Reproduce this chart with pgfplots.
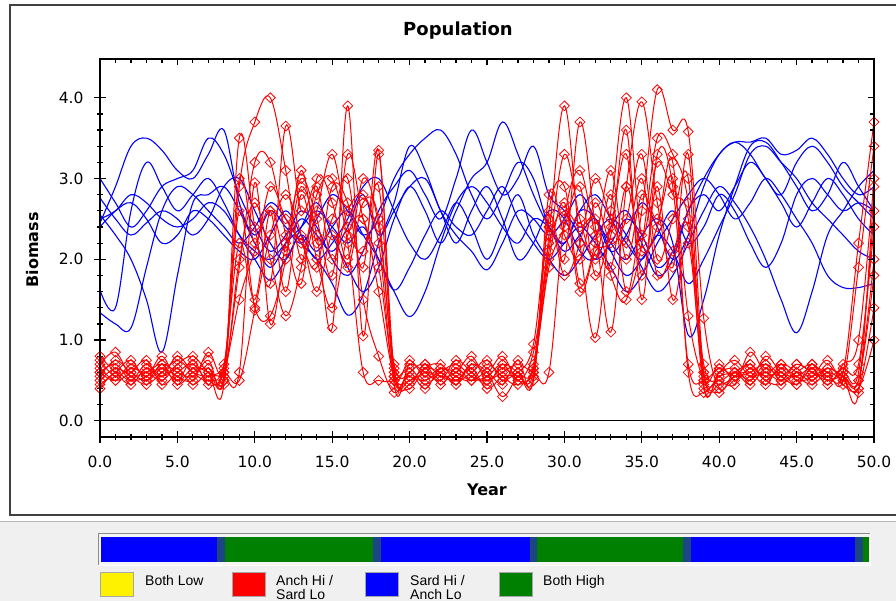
\documentclass[border=0pt]{standalone}
\usepackage{fontspec}
\setmainfont{DejaVu Sans}
\newfontfamily\legfont{Liberation Sans}
\usepackage{pgfplots}
\pgfplotsset{compat=1.18}
\definecolor{sepc}{HTML}{1C4584}
\definecolor{bgreen}{HTML}{008000}
\definecolor{panel}{HTML}{F0F0F0}
\definecolor{bblue}{HTML}{0000FF}
\definecolor{rred}{HTML}{FF0000}
\pgfplotsset{
 rd/.style={rred, smooth, tension=0.6, line width=1bp, mark=square, mark size=3.5bp, mark options={rotate=45, line width=0.75bp, solid}},
 bl/.style={bblue, smooth, tension=0.6, line width=1.1bp, no markers},
 frame/.style={at={(100bp,164bp)}, anchor=south west, scale only axis,
  width=774bp, height=378bp, xmin=0, xmax=50, ymin=-0.2, ymax=4.48,
  xtick={0,5,...,50}, ytick={0,1,2,3,4}, minor x tick num=4, minor y tick num=4,
  every tick/.style={black, line width=1.2bp},
  axis line style={black, line width=1.3bp}},
}
\begin{document}
\begin{tikzpicture}[x=1bp,y=1bp]
\useasboundingbox (0,0) rectangle (896,601);
\clip (0,0) rectangle (896,601);
\fill[white] (0,0) rectangle (896,601);
\fill[panel] (0,0) rectangle (896,79);
\draw[black!28, line width=1.5bp] (0,79.5) -- (896,79.5);
\draw[black!75, line width=1.5bp] (10,86) rectangle (910,596);

\begin{axis}[frame,
  xtick pos=left, ytick pos=left, tick align=center,
  major tick length=12bp, minor tick length=6bp,
  tick label style={font=\fontsize{15.5bp}{18bp}\selectfont, text=black},
  xticklabel style={yshift=-9bp, /pgf/number format/fixed, /pgf/number format/fixed zerofill, /pgf/number format/precision=1, /pgf/number format/assume math mode=true},
  yticklabel style={xshift=-7bp, /pgf/number format/fixed, /pgf/number format/fixed zerofill, /pgf/number format/precision=1, /pgf/number format/assume math mode=true},
]
\draw[black, line width=1.3bp] (axis cs:0,0) -- (axis cs:50,0);
% blue series
\addplot[bl] coordinates {(0,2.45)(1,2.9)(2,3.4)(3,3.5)(4,3.35)(5,3.1)(6,3.0)(7,3.3)(8,3.6)(9,2.7)(10,2.3)(11,2.6)(12,2.4)(13,2.2)(14,2.5)(15,2.8)(16,2.6)(17,2.3)(18,2.5)(19,3.0)(20,3.3)(21,3.5)(22,3.6)(23,3.3)(24,2.8)(25,2.5)(26,2.8)(27,3.2)(28,3.0)(29,2.4)(30,2.2)(31,2.6)(32,2.5)(33,2.1)(34,2.3)(35,2.7)(36,2.4)(37,2.0)(38,2.3)(39,2.9)(40,3.3)(41,3.45)(42,3.45)(43,3.5)(44,3.3)(45,3.35)(46,3.5)(47,3.3)(48,3.0)(49,2.8)(50,2.9)};
\addplot[bl] coordinates {(0,3.0)(1,2.7)(2,2.4)(3,2.6)(4,2.9)(5,3.0)(6,3.1)(7,3.5)(8,3.3)(9,2.8)(10,2.4)(11,2.1)(12,2.3)(13,2.6)(14,2.4)(15,2.0)(16,1.8)(17,2.1)(18,2.6)(19,2.9)(20,3.1)(21,2.8)(22,2.5)(23,3.0)(24,3.6)(25,3.2)(26,2.8)(27,3.0)(28,3.4)(29,2.8)(30,2.6)(31,2.3)(32,2.0)(33,2.2)(34,2.5)(35,2.3)(36,1.9)(37,2.1)(38,2.6)(39,3.0)(40,3.3)(41,3.45)(42,3.3)(43,3.0)(44,2.8)(45,3.2)(46,3.4)(47,3.2)(48,2.9)(49,2.7)(50,2.5)};
\addplot[bl] coordinates {(0,2.76)(1,2.5)(2,2.3)(3,2.45)(4,2.6)(5,2.5)(6,2.3)(7,2.5)(8,2.9)(9,3.0)(10,2.6)(11,2.2)(12,2.0)(13,2.4)(14,2.7)(15,2.3)(16,1.9)(17,1.6)(18,1.9)(19,2.5)(20,2.9)(21,2.6)(22,2.2)(23,2.6)(24,3.0)(25,3.2)(26,3.7)(27,3.3)(28,2.8)(29,2.4)(30,2.1)(31,2.3)(32,2.5)(33,2.1)(34,1.8)(35,2.0)(36,2.3)(37,2.6)(38,2.2)(39,2.4)(40,2.8)(41,2.6)(42,2.2)(43,1.9)(44,2.2)(45,2.8)(46,3.0)(47,2.8)(48,2.6)(49,2.7)(50,2.6)};
\addplot[bl] coordinates {(0,2.55)(1,2.3)(2,2.0)(3,1.5)(4,0.85)(5,1.8)(6,2.7)(7,2.8)(8,2.9)(9,2.6)(10,2.2)(11,1.9)(12,2.2)(13,2.5)(14,2.3)(15,2.1)(16,2.4)(17,2.8)(18,2.3)(19,2.6)(20,2.9)(21,3.0)(22,2.6)(23,2.2)(24,2.6)(25,2.9)(26,2.5)(27,2.0)(28,2.2)(29,2.6)(30,2.5)(31,2.1)(32,2.0)(33,2.4)(34,2.6)(35,2.2)(36,1.8)(37,2.0)(38,2.6)(39,2.8)(40,2.6)(41,2.9)(42,3.2)(43,3.0)(44,2.7)(45,2.4)(46,2.7)(47,3.0)(48,2.8)(49,2.5)(50,2.3)};
\addplot[bl] coordinates {(0,1.62)(1,1.4)(2,2.6)(3,3.2)(4,2.9)(5,2.6)(6,2.8)(7,3.0)(8,2.7)(9,2.3)(10,2.0)(11,1.74)(12,2.0)(13,2.3)(14,2.1)(15,2.4)(16,2.6)(17,2.3)(18,2.0)(19,1.6)(20,1.29)(21,1.6)(22,2.2)(23,2.7)(24,2.9)(25,2.7)(26,2.4)(27,2.2)(28,2.5)(29,2.4)(30,2.2)(31,2.6)(32,2.8)(33,2.5)(34,2.2)(35,2.0)(36,2.3)(37,2.1)(38,1.7)(39,2.0)(40,2.4)(41,2.8)(42,3.3)(43,3.4)(44,3.2)(45,3.0)(46,2.7)(47,2.5)(48,2.3)(49,2.1)(50,2.0)};
\addplot[bl] coordinates {(0,1.34)(1,1.2)(2,1.15)(3,1.9)(4,2.6)(5,2.9)(6,2.8)(7,2.6)(8,2.4)(9,2.2)(10,2.4)(11,2.7)(12,2.5)(13,2.2)(14,2.0)(15,1.7)(16,1.31)(17,1.56)(18,2.2)(19,2.7)(20,3.4)(21,3.1)(22,2.6)(23,2.3)(24,2.1)(25,1.87)(26,2.2)(27,2.6)(28,2.5)(29,2.3)(30,2.5)(31,2.8)(32,2.5)(33,2.2)(34,2.0)(35,2.3)(36,2.5)(37,2.2)(38,1.06)(39,1.5)(40,2.3)(41,2.9)(42,3.4)(43,3.45)(44,3.2)(45,2.9)(46,2.6)(47,2.8)(48,3.2)(49,2.9)(50,2.6)};
\addplot[bl] coordinates {(0,2.4)(1,2.6)(2,2.7)(3,2.5)(4,2.2)(5,2.3)(6,2.6)(7,2.5)(8,2.3)(9,2.1)(10,2.0)(11,2.3)(12,2.6)(13,2.3)(14,2.0)(15,2.2)(16,2.5)(17,2.9)(18,3.0)(19,2.6)(20,2.2)(21,2.0)(22,2.3)(23,2.7)(24,2.4)(25,2.0)(26,2.4)(27,2.8)(28,2.3)(29,2.0)(30,1.8)(31,2.0)(32,2.3)(33,2.5)(34,2.3)(35,1.9)(36,1.6)(37,1.8)(38,2.2)(39,2.6)(40,2.9)(41,2.7)(42,2.4)(43,2.0)(44,1.5)(45,1.09)(46,1.6)(47,2.3)(48,2.6)(49,2.9)(50,3.1)};
\addplot[bl] coordinates {(0,2.5)(1,2.6)(2,2.8)(3,2.7)(4,2.5)(5,2.4)(6,2.5)(7,2.7)(8,2.6)(9,2.3)(10,2.1)(11,2.0)(12,2.2)(13,2.4)(14,2.6)(15,2.4)(16,2.2)(17,2.4)(18,2.0)(19,1.62)(20,1.9)(21,2.3)(22,2.6)(23,2.4)(24,2.3)(25,2.6)(26,2.9)(27,2.5)(28,2.2)(29,2.0)(30,2.2)(31,2.4)(32,2.2)(33,1.9)(34,1.6)(35,1.8)(36,2.2)(37,2.5)(38,2.8)(39,3.0)(40,2.8)(41,2.5)(42,2.7)(43,3.0)(44,2.8)(45,2.5)(46,2.2)(47,1.8)(48,1.65)(49,1.65)(50,1.7)};
% red series
\addplot[rd] coordinates {(0,0.55)(1,0.75)(2,0.6)(3,0.5)(4,0.7)(5,0.6)(6,0.55)(7,0.75)(8,0.5)(9,2.9)(10,3.7)(11,4.0)(12,3.1)(13,2.0)(14,2.6)(15,3.3)(16,2.4)(17,2.1)(18,2.9)(19,0.6)(20,0.45)(21,0.7)(22,0.55)(23,0.6)(24,0.8)(25,0.5)(26,0.65)(27,0.55)(28,0.6)(29,2.3)(30,3.9)(31,2.2)(32,1.03)(33,2.6)(34,4.0)(35,2.3)(36,3.2)(37,2.8)(38,2.5)(39,0.4)(40,0.6)(41,0.75)(42,0.55)(43,0.6)(44,0.5)(45,0.7)(46,0.6)(47,0.55)(48,0.6)(49,2.2)(50,3.7)};
\addplot[rd] coordinates {(0,0.8)(1,0.6)(2,0.45)(3,0.65)(4,0.55)(5,0.8)(6,0.6)(7,0.5)(8,0.7)(9,2.2)(10,1.5)(11,2.6)(12,2.1)(13,2.9)(14,2.3)(15,1.15)(16,3.9)(17,1.05)(18,3.3)(19,0.45)(20,0.7)(21,0.6)(22,0.5)(23,0.75)(24,0.6)(25,0.45)(26,0.7)(27,0.6)(28,0.5)(29,2.5)(30,2.0)(31,3.7)(32,2.4)(33,1.1)(34,2.9)(35,3.95)(36,2.7)(37,1.9)(38,3.3)(39,0.6)(40,0.45)(41,0.55)(42,0.7)(43,0.5)(44,0.65)(45,0.55)(46,0.45)(47,0.6)(48,0.5)(49,0.4)(50,1.4)};
\addplot[rd] coordinates {(0,0.6)(1,0.5)(2,0.7)(3,0.55)(4,0.8)(5,0.5)(6,0.65)(7,0.6)(8,0.45)(9,3.5)(10,2.4)(11,1.7)(12,3.65)(13,2.6)(14,2.9)(15,2.0)(16,2.6)(17,2.8)(18,2.2)(19,0.5)(20,0.6)(21,0.4)(22,0.65)(23,0.55)(24,0.5)(25,0.7)(26,0.55)(27,0.45)(28,0.7)(29,2.2)(30,2.6)(31,2.4)(32,2.5)(33,1.8)(34,1.5)(35,2.6)(36,4.1)(37,3.6)(38,3.58)(39,1.27)(40,0.4)(41,0.6)(42,0.5)(43,0.7)(44,0.55)(45,0.45)(46,0.65)(47,0.6)(48,0.5)(49,1.9)(50,3.4)};
\addplot[rd] coordinates {(0,0.7)(1,0.85)(2,0.55)(3,0.6)(4,0.5)(5,0.7)(6,0.8)(7,0.6)(8,0.55)(9,0.6)(10,2.95)(11,1.2)(12,2.2)(13,3.0)(14,2.5)(15,1.8)(16,3.3)(17,2.5)(18,1.9)(19,0.55)(20,0.4)(21,0.65)(22,0.7)(23,0.5)(24,0.6)(25,0.75)(26,0.5)(27,0.6)(28,0.55)(29,2.6)(30,2.9)(31,1.7)(32,2.2)(33,3.1)(34,2.0)(35,2.8)(36,2.5)(37,3.0)(38,1.3)(39,0.5)(40,0.35)(41,0.55)(42,0.6)(43,0.45)(44,0.7)(45,0.6)(46,0.5)(47,0.65)(48,0.55)(49,0.5)(50,2.0)};
\addplot[rd] coordinates {(0,0.45)(1,0.6)(2,0.75)(3,0.5)(4,0.65)(5,0.55)(6,0.5)(7,0.85)(8,0.6)(9,1.9)(10,3.2)(11,3.2)(12,2.3)(13,1.7)(14,3.0)(15,2.7)(16,2.0)(17,3.0)(18,2.4)(19,0.7)(20,0.55)(21,0.5)(22,0.6)(23,0.45)(24,0.7)(25,0.6)(26,0.8)(27,0.5)(28,0.65)(29,1.9)(30,2.4)(31,2.9)(32,1.8)(33,2.4)(34,3.3)(35,1.8)(36,2.9)(37,1.5)(38,2.2)(39,0.55)(40,0.7)(41,0.5)(42,0.65)(43,0.55)(44,0.6)(45,0.45)(46,0.7)(47,0.5)(48,0.6)(49,0.6)(50,2.6)};
\addplot[rd] coordinates {(0,0.65)(1,0.5)(2,0.6)(3,0.75)(4,0.45)(5,0.6)(6,0.7)(7,0.5)(8,0.65)(9,2.6)(10,1.4)(11,1.3)(12,2.0)(13,3.1)(14,2.2)(15,2.5)(16,3.0)(17,1.5)(18,0.8)(19,0.35)(20,0.6)(21,0.7)(22,0.45)(23,0.65)(24,0.5)(25,0.6)(26,0.45)(27,0.75)(28,0.5)(29,2.8)(30,2.3)(31,2.0)(32,2.7)(33,2.2)(34,2.5)(35,3.3)(36,2.0)(37,2.5)(38,3.0)(39,0.45)(40,0.6)(41,0.65)(42,0.5)(43,0.8)(44,0.6)(45,0.55)(46,0.65)(47,0.45)(48,0.7)(49,1.0)(50,3.0)};
\addplot[rd] coordinates {(0,0.5)(1,0.65)(2,0.55)(3,0.45)(4,0.6)(5,0.75)(6,0.6)(7,0.55)(8,0.6)(9,0.5)(10,1.37)(11,2.3)(12,2.8)(13,2.3)(14,1.6)(15,2.3)(16,1.9)(17,2.7)(18,2.5)(19,0.6)(20,0.75)(21,0.55)(22,0.65)(23,0.6)(24,0.5)(25,0.55)(26,0.7)(27,0.5)(28,0.85)(29,2.1)(30,3.3)(31,2.5)(32,2.0)(33,2.8)(34,1.6)(35,2.2)(36,3.5)(37,3.3)(38,2.7)(39,0.6)(40,0.5)(41,0.45)(42,0.85)(43,0.6)(44,0.7)(45,0.5)(46,0.55)(47,0.75)(48,0.45)(49,0.4)(50,1.0)};
\addplot[rd] coordinates {(0,0.75)(1,0.55)(2,0.65)(3,0.6)(4,0.7)(5,0.45)(6,0.6)(7,0.65)(8,0.5)(9,2.0)(10,2.7)(11,2.0)(12,1.3)(13,1.9)(14,2.8)(15,3.0)(16,2.2)(17,0.6)(18,0.5)(19,0.5)(20,0.65)(21,0.45)(22,0.6)(23,0.7)(24,0.55)(25,0.5)(26,0.6)(27,0.7)(28,0.6)(29,0.6)(30,2.5)(31,3.1)(32,2.3)(33,1.9)(34,2.9)(35,2.1)(36,2.4)(37,3.2)(38,0.6)(39,0.35)(40,0.55)(41,0.6)(42,0.7)(43,0.5)(44,0.45)(45,0.6)(46,0.7)(47,0.55)(48,0.65)(49,0.7)(50,2.4)};
\addplot[rd] coordinates {(0,0.4)(1,0.6)(2,0.5)(3,0.7)(4,0.55)(5,0.65)(6,0.45)(7,0.6)(8,0.55)(9,3.0)(10,2.2)(11,2.9)(12,2.5)(13,2.2)(14,1.9)(15,2.9)(16,2.7)(17,1.9)(18,3.35)(19,0.65)(20,0.5)(21,0.6)(22,0.55)(23,0.5)(24,0.65)(25,0.4)(26,0.55)(27,0.6)(28,0.95)(29,2.4)(30,1.8)(31,2.2)(32,3.0)(33,2.5)(34,2.2)(35,3.0)(36,1.8)(37,2.1)(38,2.4)(39,0.7)(40,0.5)(41,0.6)(42,0.45)(43,0.65)(44,0.55)(45,0.7)(46,0.6)(47,0.5)(48,0.55)(49,0.5)(50,1.8)};
\addplot[rd] coordinates {(0,0.6)(1,0.7)(2,0.5)(3,0.55)(4,0.65)(5,0.5)(6,0.75)(7,0.45)(8,0.6)(9,1.5)(10,2.1)(11,2.6)(12,1.6)(13,2.8)(14,2.0)(15,1.4)(16,2.3)(17,2.5)(18,1.6)(19,0.55)(20,0.5)(21,0.65)(22,0.6)(23,0.5)(24,0.7)(25,0.6)(26,0.3)(27,0.55)(28,0.65)(29,2.0)(30,2.7)(31,1.6)(32,2.1)(33,2.3)(34,3.6)(35,1.5)(36,3.3)(37,2.9)(38,0.7)(39,0.5)(40,0.65)(41,0.55)(42,0.6)(43,0.7)(44,0.5)(45,0.6)(46,0.55)(47,0.65)(48,0.55)(49,0.35)(50,2.9)};
\end{axis}

% top and right inward ticks
\begin{axis}[frame,
  xtick pos=right, ytick pos=right, tick align=inside,
  major tick length=6bp, minor tick length=4bp,
  xticklabels={}, yticklabels={}]
\end{axis}

% regime colour bar
\fill[black!4] (98,35) rectangle (871,68);
\draw[black!45, line width=1bp] (98.5,67.5) -- (98.5,35.5);
\draw[black!45, line width=1bp] (98.5,67.5) -- (870.5,67.5);
\draw[white, line width=1bp] (98.5,35.5) -- (870.5,35.5) -- (870.5,67.5);
\begin{axis}[at={(101bp,39bp)}, anchor=south west, scale only axis,
  width=768bp, height=25bp, xmin=0, xmax=50, ymin=0, ymax=1, hide axis]
\addplot[draw=none, fill=bblue] coordinates {(0,0)(7.55,0)(7.55,1)(0,1)} --cycle;
\addplot[draw=none, fill=sepc] coordinates {(7.55,0)(8.07,0)(8.07,1)(7.55,1)} --cycle;
\addplot[draw=none, fill=bgreen] coordinates {(8.07,0)(17.7,0)(17.7,1)(8.07,1)} --cycle;
\addplot[draw=none, fill=sepc] coordinates {(17.7,0)(18.2,0)(18.2,1)(17.7,1)} --cycle;
\addplot[draw=none, fill=bblue] coordinates {(18.2,0)(27.9,0)(27.9,1)(18.2,1)} --cycle;
\addplot[draw=none, fill=sepc] coordinates {(27.9,0)(28.4,0)(28.4,1)(27.9,1)} --cycle;
\addplot[draw=none, fill=bgreen] coordinates {(28.4,0)(37.9,0)(37.9,1)(28.4,1)} --cycle;
\addplot[draw=none, fill=sepc] coordinates {(37.9,0)(38.4,0)(38.4,1)(37.9,1)} --cycle;
\addplot[draw=none, fill=bblue] coordinates {(38.4,0)(49.1,0)(49.1,1)(38.4,1)} --cycle;
\addplot[draw=none, fill=sepc] coordinates {(49.1,0)(49.6,0)(49.6,1)(49.1,1)} --cycle;
\addplot[draw=none, fill=bgreen] coordinates {(49.6,0)(50,0)(50,1)(49.6,1)} --cycle;
\end{axis}

% legend of regimes
\filldraw[fill=yellow, draw=black!35, line width=0.6bp] (100,5) rectangle (133,29);
\filldraw[fill=rred, draw=black!35, line width=0.6bp] (232,5) rectangle (265,29);
\filldraw[fill=bblue, draw=black!35, line width=0.6bp] (365,5) rectangle (398,29);
\filldraw[fill=bgreen, draw=black!35, line width=0.6bp] (499,5) rectangle (532,29);
\begin{scope}[every node/.style={anchor=base west, inner sep=0pt, font=\legfont\fontsize{14bp}{16bp}\selectfont}]
\node at (145,15) {Both Low};
\node at (276,15) {Anch Hi /};
\node at (276,1.5) {Sard Lo};
\node at (410,15) {Sard Hi /};
\node at (410,1.5) {Anch Lo};
\node at (543,15) {Both High};
\end{scope}

% titles
\node[font=\bfseries\fontsize{18bp}{22bp}\selectfont] at (458,570) {Population};
\node[font=\bfseries\fontsize{16bp}{19bp}\selectfont] at (487,111) {Year};
\node[rotate=90, font=\bfseries\fontsize{16bp}{19bp}\selectfont] at (33,351) {Biomass};
\end{tikzpicture}
\end{document}
